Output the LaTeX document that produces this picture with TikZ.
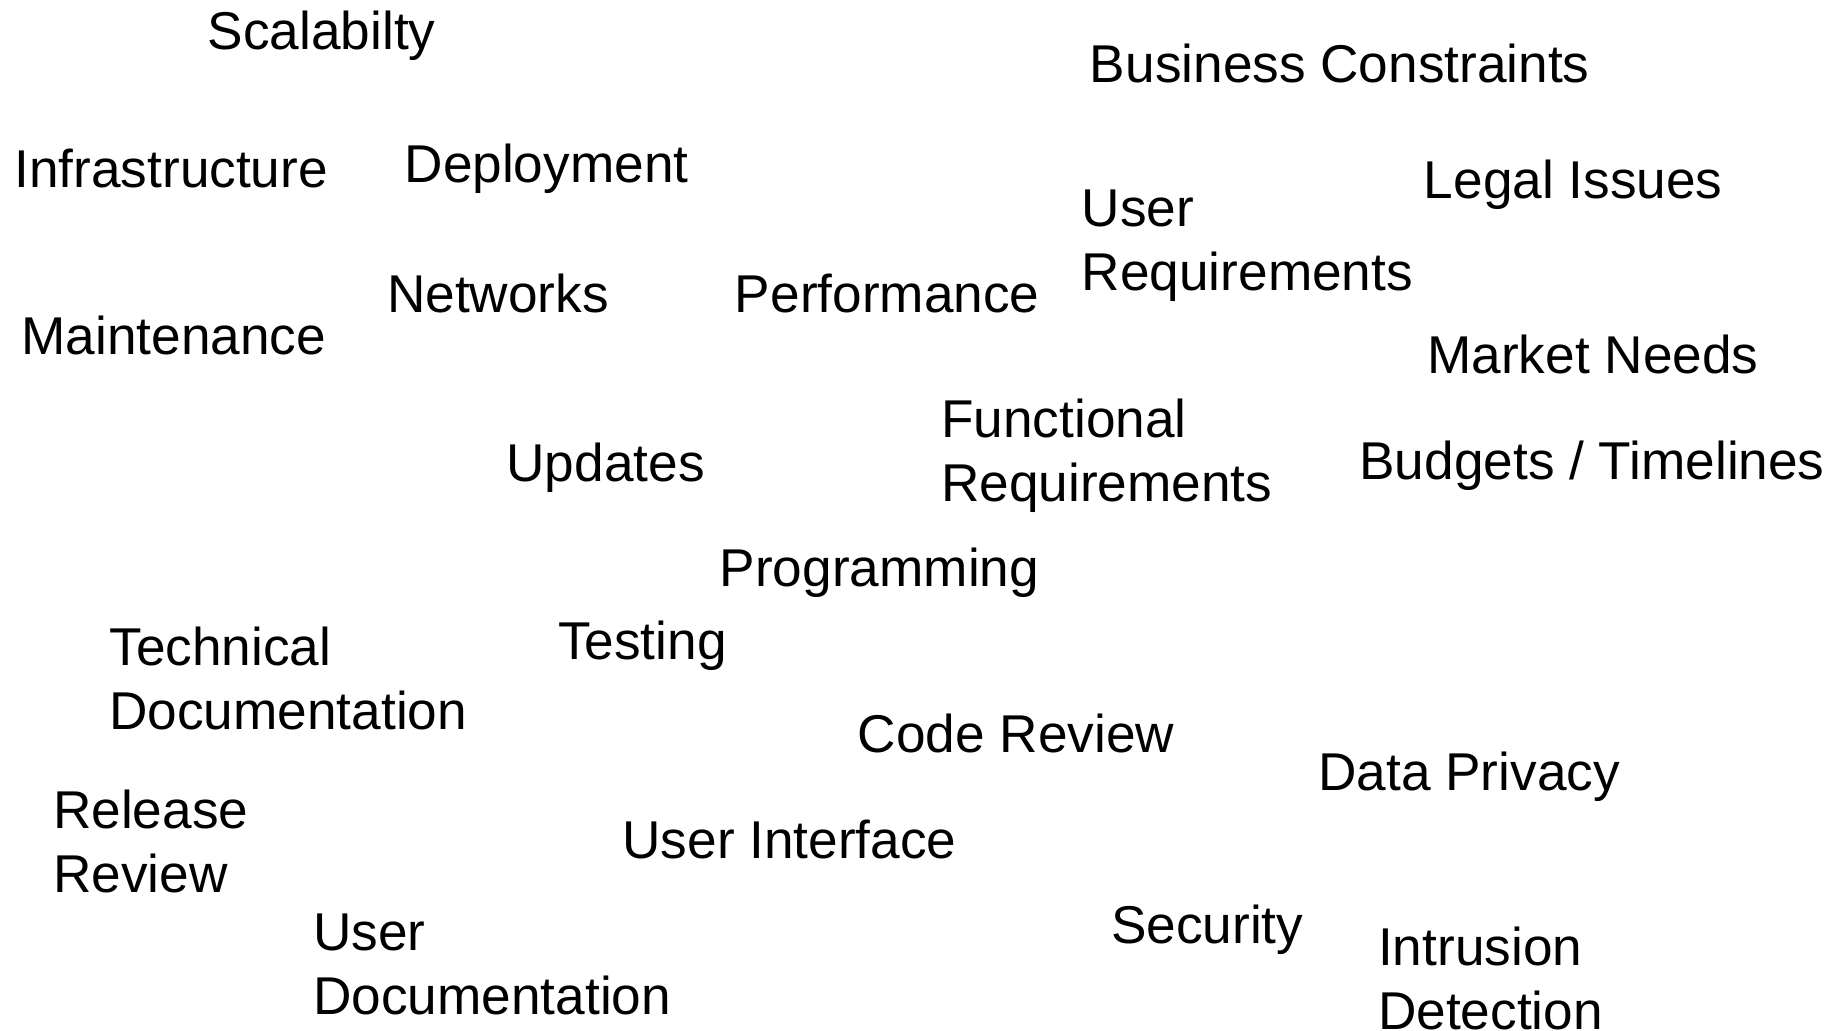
\documentclass[tikz,border=0pt]{standalone}
\usepackage{fontspec}
\setmainfont{Liberation Sans}
\begin{document}
\begin{tikzpicture}[x=0.5858pt,y=-0.5858pt,
  lbl/.style={anchor=base west,inner sep=0pt,align=left,font=\fontsize{26.6}{32.2}\selectfont}]
\useasboundingbox (0,0) rectangle (1568,880);
\node[lbl] (scal) at (177,42) {Scalabilty};
\node[lbl] (busc) at (930,70) {Business Constraints};
\node[lbl] (infr) at (12,160) {Infrastructure};
\node[lbl] (depl) at (345,156) {Deployment};
\node[lbl] (legal) at (1215,169) {Legal Issues};
\node[lbl] (ureq) at (923,248) {User\\Requirements};
\node[lbl] (netw) at (330,267) {Networks};
\node[lbl] (perf) at (627,267) {Performance};
\node[lbl] (maint) at (18,303) {Maintenance};
\node[lbl] (mkt) at (1218,319) {Market Needs};
\node[lbl] (freq) at (803,428) {Functional\\Requirements};
\node[lbl] (upd) at (432,411) {Updates};
\node[lbl] (budg) at (1160,409) {Budgets / Timelines};
\node[lbl] (prog) at (614,501) {Programming};
\node[lbl] (tdoc) at (93,623) {Technical\\Documentation};
\node[lbl] (test) at (476,563) {Testing};
\node[lbl] (code) at (732,642) {Code Review};
\node[lbl] (priv) at (1125,675) {Data Privacy};
\node[lbl] (rel) at (45,762) {Release\\Review};
\node[lbl] (ui) at (531,733) {User Interface};
\node[lbl] (sec) at (948,805) {Security};
\node[lbl] (udoc) at (267,866) {User\\Documentation};
\node[lbl] (intr) at (1176,879) {Intrusion\\Detection};
\end{tikzpicture}
\end{document}
